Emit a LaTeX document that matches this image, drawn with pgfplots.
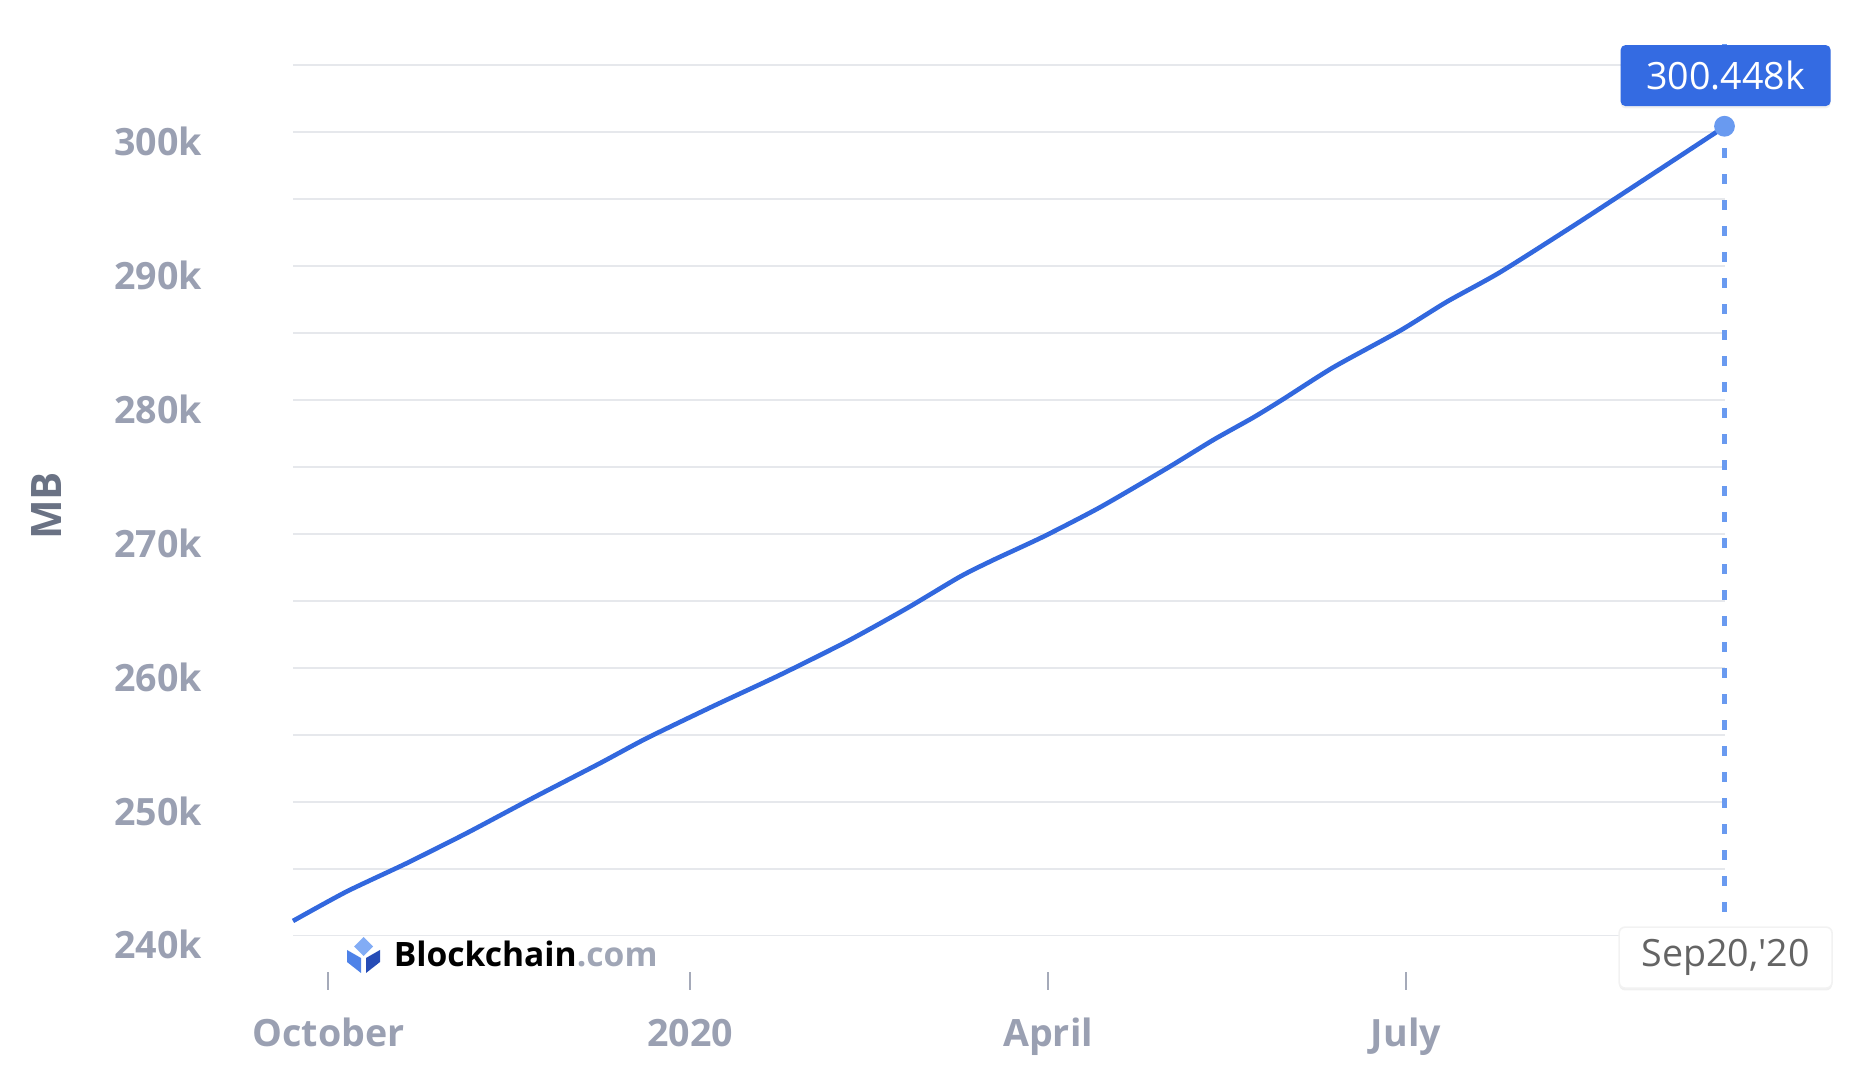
\documentclass[border=0pt]{standalone}
\usepackage{fontspec}
\setmainfont{Open Sans}
\usepackage{pgfplots}
\pgfplotsset{compat=1.18}
\usetikzlibrary{shadows}
\definecolor{linecol}{RGB}{50,104,222}
\definecolor{dotcol}{RGB}{105,154,240}
\definecolor{boxblue}{RGB}{52,107,226}
\definecolor{gridgrey}{RGB}{230,232,236}
\definecolor{labelgrey}{RGB}{154,160,178}
\definecolor{tickgrey}{RGB}{165,170,185}
\definecolor{mbgrey}{RGB}{106,114,132}
\definecolor{sepgrey}{RGB}{100,100,100}
\definecolor{comgrey}{RGB}{160,166,182}
\definecolor{logolight}{RGB}{130,172,245}
\definecolor{logomid}{RGB}{78,130,232}
\definecolor{logodark}{RGB}{38,76,182}
\begin{document}
\begin{tikzpicture}
\path[use as bounding box] (0,0) rectangle (463pt,267.5pt);
\begin{axis}[
  at={(73.25pt,24.5pt)}, anchor=south west,
  scale only axis, width=357.875pt, height=233pt,
  xmin=-9, xmax=355, ymin=237289, ymax=306890,
  clip=false,
  axis line style={draw=none},
  xtick={0,92,183,274},
  xticklabels={October,2020,April,July},
  ytick={240000,250000,260000,270000,280000,290000,300000},
  yticklabels={240k,250k,260k,270k,280k,290k,300k},
  minor ytick={245000,255000,265000,275000,285000,295000,305000},
  scaled y ticks=false, scaled x ticks=false,
  ymajorgrids, yminorgrids,
  major grid style={draw=gridgrey, line width=0.4pt},
  minor grid style={draw=gridgrey, line width=0.4pt},
  tick align=outside,
  xtick pos=bottom, ytick pos=left,
  major tick length=4.5pt, minor tick length=0pt,
  x tick style={draw=tickgrey, line width=0.5pt},
  y tick style={draw=none},
  minor y tick style={draw=none},
  xticklabel style={font=\bfseries\fontsize{9.4}{10}\selectfont, text=labelgrey, anchor=base, yshift=-14.1pt},
  yticklabel style={font=\bfseries\fontsize{9.4}{10}\selectfont, text=labelgrey, anchor=east, xshift=-14.7pt, yshift=-2.3pt},
  ylabel={MB},
  ylabel style={at={(axis description cs:-0.172,0.5)}, anchor=center, font=\bfseries\fontsize{10.5}{12}\selectfont, text=mbgrey},
]
\addplot[dotcol, line width=1.25pt, dash pattern=on 2.3pt off 4.2pt] coordinates {(355,241800) (355,306890)};
\addplot[linecol, line width=1.15pt, smooth, tension=0.4] coordinates {
(-9,241100) (4.6,243290) (19.9,245410) (35.1,247650) (52.1,250300) (69,252870)
(80.9,254740) (97.9,257150) (114.8,259470) (131.8,261960) (147.1,264450)
(160.6,266810) (169.1,268060) (181.8,269800) (196.2,271990) (213.2,274900)
(225,277020) (235.2,278700) (242.8,280070) (255.5,282440) (272.5,285180)
(284.4,287340) (297.9,289540) (316.6,293020) (333.5,296260) (352.2,299870)
(355,300448)};
\addplot[only marks, mark=*, mark size=2.4pt, mark options={fill=dotcol, draw=dotcol}] coordinates {(355,300448)};
\end{axis}
% value box
\node[fill=boxblue, rounded corners=1.2pt, minimum width=52.5pt, minimum height=15.25pt, inner sep=0pt,
      text=white, font=\fontsize{9.4}{10}\selectfont,
      drop shadow={opacity=0.12, shadow xshift=0pt, shadow yshift=-0.6pt}] at (431.4pt,248.6pt) {300.448k};
% date box
\node[fill=white, draw=black!5, rounded corners=1.5pt, minimum width=53.25pt, minimum height=15.25pt, inner sep=0pt,
      text=sepgrey, font=\fontsize{9.4}{10}\selectfont,
      drop shadow={opacity=0.12, shadow xshift=0pt, shadow yshift=-0.6pt}] at (431.4pt,28.1pt) {Sep20,\textquotesingle20};
% logo
\fill[logolight] (90.875pt,33.25pt) -- (93.25pt,30.875pt) -- (90.875pt,28.5pt) -- (88.5pt,30.875pt) -- cycle;
\fill[logomid] (86.75pt,30pt) -- (90.25pt,28pt) -- (90.25pt,24.25pt) -- (86.75pt,27pt) -- cycle;
\fill[logodark] (91.5pt,28pt) -- (95pt,30pt) -- (95pt,27pt) -- (91.5pt,24.25pt) -- cycle;
\node[anchor=base west, inner sep=0pt, font=\bfseries\fontsize{8.4}{10}\selectfont] at (98.25pt,25.8pt) {Blockchain\textcolor{comgrey}{.com}};
\end{tikzpicture}
\end{document}
